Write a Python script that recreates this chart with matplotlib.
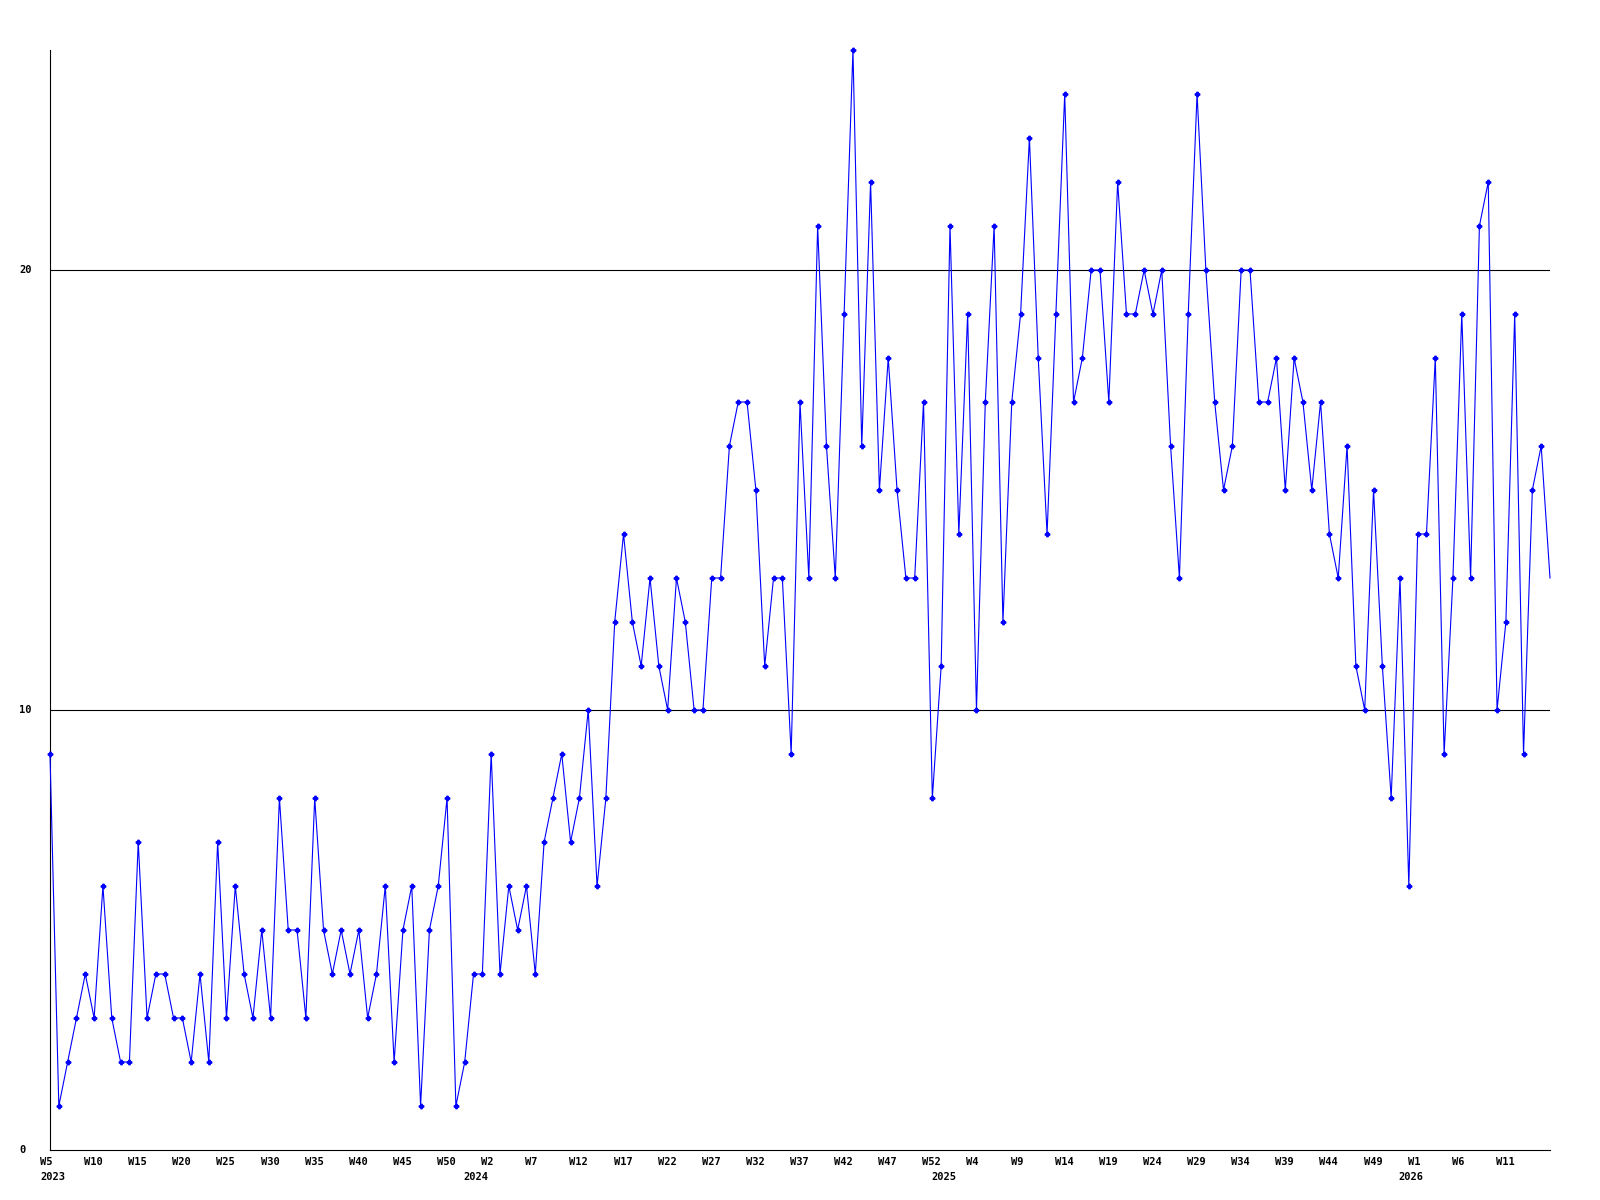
import matplotlib
matplotlib.use("Agg")
import matplotlib.pyplot as plt
from matplotlib.transforms import offset_copy

# weekly values, starting at 2023 W5
values = [
    9, 1, 2, 3, 4, 3, 6, 3, 2, 2, 7, 3, 4, 4, 3, 3, 2, 4, 2, 7, 3, 6, 4, 3, 5, 3, 8, 5, 5, 3, 8, 5,
    4, 5, 4, 5, 3, 4, 6, 2, 5, 6, 1, 5, 6, 8, 1, 2, 4, 4, 9, 4, 6, 5, 6, 4, 7, 8, 9, 7, 8, 10, 6, 8,
    12, 14, 12, 11, 13, 11, 10, 13, 12, 10, 10, 13, 13, 16, 17, 17, 15, 11, 13, 13, 9, 17, 13,
    21, 16, 13, 19, 25,
    16, 22, 15, 18, 15, 13, 13, 17, 8, 11, 21, 14, 19, 10, 17, 21, 12, 17, 19, 23, 18, 14, 19, 24,
    17, 18, 20, 20, 17, 22,
    19, 19, 20, 19, 20, 16, 13, 19, 24, 20, 17, 15, 16, 20, 20, 17, 17, 18, 15, 18, 17, 15, 17, 14,
    13, 16,
    11, 10, 15, 11, 8, 13, 6, 14, 14, 18, 9, 13, 19, 13, 21, 22, 10, 12, 19, 9, 15, 16, 13,
]

# one label every 5 points
week_labels = [
    "W5", "W10", "W15", "W20", "W25", "W30", "W35", "W40", "W45", "W50",
    "W2", "W7", "W12", "W17", "W22", "W27", "W32", "W37", "W42", "W47", "W52",
    "W4", "W9", "W14", "W19", "W24", "W29", "W34", "W39", "W44", "W49",
    "W1", "W6", "W11",
]
year_labels = ["2023", "2024", "2025", "2026"]
year_starts = [0, 48, 101, 154]
y_ticks = [0, 10, 20]
grid_levels = [10, 20]

x = list(range(len(values)))
tick_pos = list(range(0, 5 * len(week_labels), 5))

fig = plt.figure(figsize=(16, 12), dpi=100)
ax = fig.add_axes([50 / 1600, 50 / 1200, 1500 / 1600, 1100 / 1200])
ax.set_xlim(0, len(values) - 1)
ax.set_ylim(0, 25)
for s in ["top", "right"]:
    ax.spines[s].set_visible(False)
for s in ["left", "bottom"]:
    ax.spines[s].set_color("black")
    ax.spines[s].set_linewidth(0.8)
ax.set_xticks([])
ax.set_yticks([])

for v in grid_levels:
    ax.axhline(v, color="black", lw=0.8, zorder=1)

ax.plot(x, values, color="#0000ff", lw=0.8, marker="P", ms=3.2,
        markevery=slice(0, len(values) - 1), clip_on=False, zorder=3)

font = dict(family="DejaVu Sans Mono", weight="bold", size=7.5, color="black")

ytr = offset_copy(ax.get_yaxis_transform(), fig=fig, x=-31, y=0, units="dots")
for v in y_ticks:
    ax.text(0, v, str(v), transform=ytr, ha="left", va="center", **font)

wtr = offset_copy(ax.get_xaxis_transform(), fig=fig, x=-10, y=-12, units="dots")
for p, lab in zip(tick_pos, week_labels):
    ax.text(p, 0, lab, transform=wtr, ha="left", va="center", **font)

ytr2 = offset_copy(ax.get_xaxis_transform(), fig=fig, x=-10, y=-27, units="dots")
for p, lab in zip(year_starts, year_labels):
    ax.text(p, 0, lab, transform=ytr2, ha="left", va="center", **font)

fig.savefig("out.png", dpi=100, facecolor="white")
